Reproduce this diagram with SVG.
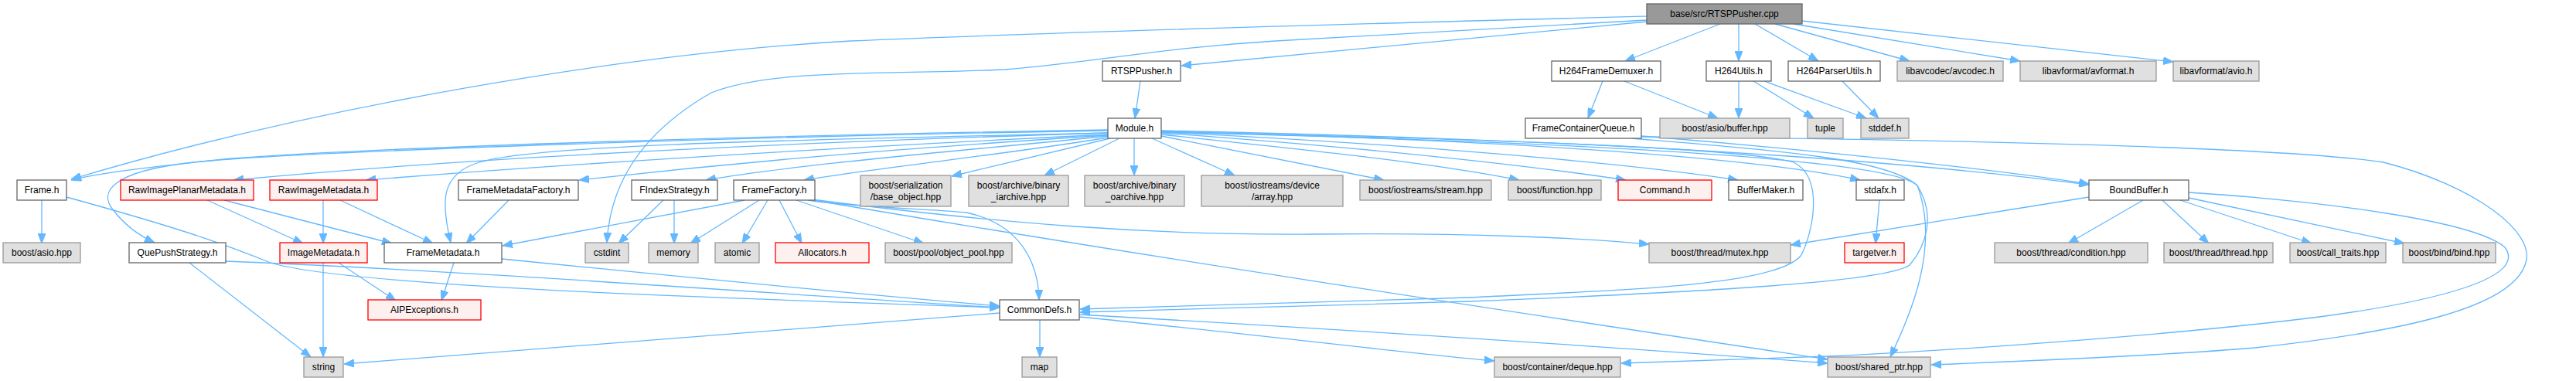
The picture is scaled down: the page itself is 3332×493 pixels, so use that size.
<svg xmlns="http://www.w3.org/2000/svg" width="3332" height="493" viewBox="0 0 3332 493">
<style>
rect{stroke-width:1.3}
.n rect{fill:#ffffff;stroke:#666666}
.e rect{fill:#e0e0e0;stroke:#999999}
.r rect{fill:#fff0f0;stroke:#ff0000}
.root rect{fill:#999999;stroke:#666666}
text{font-family:"Liberation Sans",Arial,Helvetica,sans-serif;font-size:12px;fill:#000000;text-anchor:middle}
#edges path{fill:none;stroke:#63b8ff;stroke-width:1.3;marker-end:url(#arr)}
</style>
<defs>
<marker id="arr" markerUnits="userSpaceOnUse" markerWidth="13" markerHeight="10" refX="13" refY="5" orient="auto">
<path d="M0,0 L13,5 L0,10 z" fill="#63b8ff" stroke="#63b8ff" stroke-width="1"/>
</marker>
</defs>
<rect width="3332" height="493" fill="#ffffff"/>
<g id="edges">
<!-- root -->
<path d="M2130,21 C1900,27 1400,40 1100,53 C800,70 400,140 92,232"/>
<path d="M2130,28 L1528,85"/>
<path d="M2130,26 L1650,53 C1500,62 1420,80 1300,90 C1150,97 1000,88 920,120 C850,160 790,220 785,314"/>
<path d="M2225,31 L2102,79"/>
<path d="M2249,31 L2249,79"/>
<path d="M2270,31 L2352,79"/>
<path d="M2296,31 L2470,79"/>
<path d="M2320,31 L2613,79"/>
<path d="M2331,27 L2811,80"/>
<!-- RTSPPusher.h -->
<path d="M1475,105 L1468,153"/>
<!-- H264 -->
<path d="M2073,105 L2054,153"/>
<path d="M2101,105 L2222,153"/>
<path d="M2249,105 L2249,153"/>
<path d="M2268,105 L2346,153"/>
<path d="M2282,105 L2414,153"/>
<path d="M2383,105 L2430,153"/>
<!-- Module.h -->
<path d="M1433,168 C1000,175 500,190 300,205 C200,215 120,225 92,233"/>
<path d="M1433,169 C1000,176 400,195 250,210 C140,222 130,250 145,270 C160,290 180,305 200,314"/>
<path d="M1433,172 C1000,185 600,205 302,233"/>
<path d="M1433,174 C1000,195 700,215 473,233"/>
<path d="M1433,172 C1100,180 700,185 620,210 C570,225 570,260 583,314"/>
<path d="M1433,175 C1200,190 1000,205 749,233"/>
<path d="M1433,176 C1250,195 1050,210 913,233"/>
<path d="M1433,178 C1300,200 1150,215 1040,233"/>
<path d="M1436,179 L1231,228"/>
<path d="M1448,179 L1351,227"/>
<path d="M1467,179 L1467,227"/>
<path d="M1490,179 L1597,227"/>
<path d="M1502,176 L1790,233"/>
<path d="M1502,174 C1700,195 1850,210 1965,233"/>
<path d="M1502,172 C1750,190 1950,210 2103,233"/>
<path d="M1502,171 C1800,185 2100,210 2248,233"/>
<path d="M1502,170 C1900,180 2250,200 2406,233"/>
<path d="M1502,169 C2000,180 2400,200 2702,239"/>
<path d="M1502,170 C1900,180 2250,190 2320,210 C2360,230 2345,300 2330,330 C2300,370 2100,375 1900,385 L1397,400"/>
<path d="M1502,171 C1900,180 2440,200 2480,240 C2505,280 2490,320 2470,343 C2440,365 2200,378 1900,390 L1397,404"/>
<path d="M2123,177 C2500,180 2950,190 3083,210 C3200,240 3280,300 3267,340 C3250,400 3100,430 2917,450 C2800,460 2600,468 2498,472"/>
<!-- FrameContainerQueue.h -->
<path d="M2123,176 C2300,190 2550,215 2702,238"/>
<path d="M2110,179 C2300,195 2440,205 2480,240 C2510,320 2470,410 2445,462"/>
<!-- row 4 -->
<path d="M54,259 L54,315"/>
<path d="M86,255 C250,300 300,320 350,340 C450,370 900,385 1293,398"/>
<path d="M268,259 L392,315"/>
<path d="M290,259 L507,315"/>
<path d="M418,259 L418,315"/>
<path d="M440,259 L560,315"/>
<path d="M658,259 L603,315"/>
<path d="M858,259 L800,315"/>
<path d="M872,259 L872,315"/>
<path d="M963,259 L650,318"/>
<path d="M982,259 L893,315"/>
<path d="M993,259 L960,315"/>
<path d="M1008,259 L1037,315"/>
<path d="M1030,259 L1195,315"/>
<path d="M1045,259 C1100,268 1200,270 1250,275 C1320,290 1343,340 1344,388"/>
<path d="M1050,258 C1300,290 1500,305 1700,303 C1900,301 2050,308 2133,316"/>
<path d="M1052,259 C1500,335 2000,410 2364,465"/>
<path d="M2431,259 L2426,315"/>
<path d="M2702,255 L2316,317"/>
<path d="M2772,259 L2675,315"/>
<path d="M2797,259 L2857,315"/>
<path d="M2820,259 L2990,315"/>
<path d="M2831,256 L3110,315"/>
<path d="M2831,249 C3000,260 3200,285 3240,320 C3270,360 3150,390 3000,410 C2800,435 2500,455 2363,461 L2097,470"/>
<!-- row 5 -->
<path d="M292,338 C600,350 1000,380 1293,398"/>
<path d="M245,340 L402,462"/>
<path d="M418,340 L418,462"/>
<path d="M438,340 L512,389"/>
<path d="M587,340 L571,389"/>
<path d="M649,335 C900,360 1100,380 1293,396"/>
<!-- CommonDefs.h -->
<path d="M1293,405 L445,471"/>
<path d="M1345,414 L1345,462"/>
<path d="M1396,410 C1600,430 1800,455 1933,467"/>
<path d="M1396,407 C1800,430 2100,450 2364,470"/>
</g>
<g id="root" class="root"><rect x="2130" y="5" width="201" height="26"/><text x="2230.5" y="22">base/src/RTSPPusher.cpp</text></g>
<g id="RTSPPusher_h" class="n"><rect x="1426" y="79" width="101" height="26"/><text x="1476.5" y="96">RTSPPusher.h</text></g>
<g id="H264FrameDemuxer_h" class="n"><rect x="2007" y="79" width="141" height="26"/><text x="2077.5" y="96">H264FrameDemuxer.h</text></g>
<g id="H264Utils_h" class="n"><rect x="2207" y="79" width="84" height="26"/><text x="2249" y="96">H264Utils.h</text></g>
<g id="H264ParserUtils_h" class="n"><rect x="2313" y="79" width="119" height="26"/><text x="2372.5" y="96">H264ParserUtils.h</text></g>
<g id="avcodec_h" class="e"><rect x="2454" y="79" width="137" height="26"/><text x="2522.5" y="96">libavcodec/avcodec.h</text></g>
<g id="avformat_h" class="e"><rect x="2613" y="79" width="176" height="26"/><text x="2701" y="96">libavformat/avformat.h</text></g>
<g id="avio_h" class="e"><rect x="2811" y="79" width="111" height="26"/><text x="2866.5" y="96">libavformat/avio.h</text></g>
<g id="Module_h" class="n"><rect x="1433" y="153" width="69" height="26"/><text x="1467.5" y="170">Module.h</text></g>
<g id="FrameContainerQueue_h" class="n"><rect x="1973" y="153" width="150" height="26"/><text x="2048" y="170">FrameContainerQueue.h</text></g>
<g id="asio_buffer_hpp" class="e"><rect x="2147" y="153" width="168" height="26"/><text x="2231" y="170">boost/asio/buffer.hpp</text></g>
<g id="tuple" class="e"><rect x="2338" y="153" width="46" height="26"/><text x="2361" y="170">tuple</text></g>
<g id="stddef_h" class="e"><rect x="2407" y="153" width="62" height="26"/><text x="2438" y="170">stddef.h</text></g>
<g id="Frame_h" class="n"><rect x="22" y="233" width="64" height="26"/><text x="54" y="250">Frame.h</text></g>
<g id="RawImagePlanarMetadata_h" class="r"><rect x="156" y="233" width="172" height="26"/><text x="242" y="250">RawImagePlanarMetadata.h</text></g>
<g id="RawImageMetadata_h" class="r"><rect x="349" y="233" width="139" height="26"/><text x="418.5" y="250">RawImageMetadata.h</text></g>
<g id="FrameMetadataFactory_h" class="n"><rect x="593" y="233" width="155" height="26"/><text x="670.5" y="250">FrameMetadataFactory.h</text></g>
<g id="FIndexStrategy_h" class="n"><rect x="817" y="233" width="111" height="26"/><text x="872.5" y="250">FIndexStrategy.h</text></g>
<g id="FrameFactory_h" class="n"><rect x="949" y="233" width="105" height="26"/><text x="1001.5" y="250">FrameFactory.h</text></g>
<g id="base_object_hpp" class="e"><rect x="1113" y="227" width="117" height="40"/><text x="1171.5" y="244">boost/serialization</text><text x="1171.5" y="259">/base_object.hpp</text></g>
<g id="binary_iarchive_hpp" class="e"><rect x="1253" y="227" width="129" height="40"/><text x="1317.5" y="244">boost/archive/binary</text><text x="1317.5" y="259">_iarchive.hpp</text></g>
<g id="binary_oarchive_hpp" class="e"><rect x="1403" y="227" width="129" height="40"/><text x="1467.5" y="244">boost/archive/binary</text><text x="1467.5" y="259">_oarchive.hpp</text></g>
<g id="device_array_hpp" class="e"><rect x="1554" y="227" width="183" height="40"/><text x="1645.5" y="244">boost/iostreams/device</text><text x="1645.5" y="259">/array.hpp</text></g>
<g id="stream_hpp" class="e"><rect x="1759" y="233" width="170" height="26"/><text x="1844" y="250">boost/iostreams/stream.hpp</text></g>
<g id="function_hpp" class="e"><rect x="1951" y="233" width="120" height="26"/><text x="2011" y="250">boost/function.hpp</text></g>
<g id="Command_h" class="r"><rect x="2093" y="233" width="121" height="26"/><text x="2153.5" y="250">Command.h</text></g>
<g id="BufferMaker_h" class="n"><rect x="2236" y="233" width="96" height="26"/><text x="2284" y="250">BufferMaker.h</text></g>
<g id="stdafx_h" class="n"><rect x="2401" y="233" width="62" height="26"/><text x="2432" y="250">stdafx.h</text></g>
<g id="BoundBuffer_h" class="n"><rect x="2702" y="233" width="129" height="26"/><text x="2766.5" y="250">BoundBuffer.h</text></g>
<g id="asio_hpp" class="e"><rect x="4" y="314" width="100" height="26"/><text x="54" y="331">boost/asio.hpp</text></g>
<g id="QuePushStrategy_h" class="n"><rect x="167" y="314" width="125" height="26"/><text x="229.5" y="331">QuePushStrategy.h</text></g>
<g id="ImageMetadata_h" class="r"><rect x="362" y="314" width="113" height="26"/><text x="418.5" y="331">ImageMetadata.h</text></g>
<g id="FrameMetadata_h" class="n"><rect x="497" y="314" width="152" height="26"/><text x="573" y="331">FrameMetadata.h</text></g>
<g id="cstdint" class="e"><rect x="757" y="314" width="56" height="26"/><text x="785" y="331">cstdint</text></g>
<g id="memory" class="e"><rect x="839" y="314" width="64" height="26"/><text x="871" y="331">memory</text></g>
<g id="atomic" class="e"><rect x="925" y="314" width="57" height="26"/><text x="953.5" y="331">atomic</text></g>
<g id="Allocators_h" class="r"><rect x="1003" y="314" width="121" height="26"/><text x="1063.5" y="331">Allocators.h</text></g>
<g id="object_pool_hpp" class="e"><rect x="1145" y="314" width="164" height="26"/><text x="1227" y="331">boost/pool/object_pool.hpp</text></g>
<g id="mutex_hpp" class="e"><rect x="2133" y="314" width="183" height="26"/><text x="2224.5" y="331">boost/thread/mutex.hpp</text></g>
<g id="targetver_h" class="r"><rect x="2386" y="314" width="77" height="26"/><text x="2424.5" y="331">targetver.h</text></g>
<g id="condition_hpp" class="e"><rect x="2580" y="314" width="198" height="26"/><text x="2679" y="331">boost/thread/condition.hpp</text></g>
<g id="thread_hpp" class="e"><rect x="2799" y="314" width="141" height="26"/><text x="2869.5" y="331">boost/thread/thread.hpp</text></g>
<g id="call_traits_hpp" class="e"><rect x="2962" y="314" width="124" height="26"/><text x="3024" y="331">boost/call_traits.hpp</text></g>
<g id="bind_hpp" class="e"><rect x="3108" y="314" width="120" height="26"/><text x="3168" y="331">boost/bind/bind.hpp</text></g>
<g id="AIPExceptions_h" class="r"><rect x="476" y="388" width="146" height="26"/><text x="549" y="405">AIPExceptions.h</text></g>
<g id="CommonDefs_h" class="n"><rect x="1293" y="388" width="103" height="26"/><text x="1344.5" y="405">CommonDefs.h</text></g>
<g id="string" class="e"><rect x="393" y="462" width="51" height="26"/><text x="418.5" y="479">string</text></g>
<g id="map" class="e"><rect x="1322" y="462" width="45" height="26"/><text x="1344.5" y="479">map</text></g>
<g id="deque_hpp" class="e"><rect x="1933" y="462" width="163" height="26"/><text x="2014.5" y="479">boost/container/deque.hpp</text></g>
<g id="shared_ptr_hpp" class="e"><rect x="2364" y="462" width="133" height="26"/><text x="2430.5" y="479">boost/shared_ptr.hpp</text></g>
</svg>
